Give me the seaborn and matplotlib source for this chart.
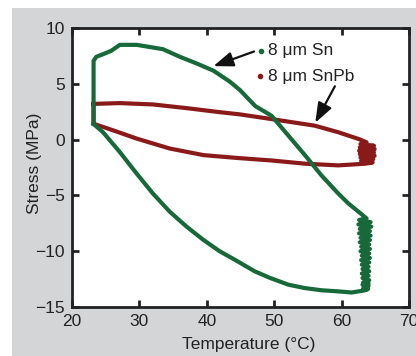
import numpy as np
import pandas as pd
import matplotlib
matplotlib.use('Agg')
import matplotlib.pyplot as plt
import seaborn as sns
from matplotlib.patches import Rectangle

# Sn loop (temperature in C, stress in MPa)
sn_temp = [23.2, 23.2, 23.6, 24.6, 25.8, 27.1, 29.6, 31.5, 33.5, 36.0, 38.5, 41.0, 43.4,
           44.9, 47.2, 49.6, 52.1, 54.6, 57.0, 59.5, 61.0, 62.5, 63.7,
           # noisy band at the hot end
           62.6, 64.3, 62.5, 64.4, 62.7, 64.2, 62.6, 64.3, 62.8, 64.2, 62.7, 64.1,
           62.9, 64.2, 62.8, 64.1, 63.0, 64.2, 62.9, 64.1, 63.0, 64.0, 63.1, 64.1,
           63.0, 64.0, 63.1, 64.1, 63.2, 64.0, 63.1, 64.0, 63.3, 63.9, 63.2, 63.9,
           63.5, 61.5, 59.5, 57.0, 54.5, 52.1, 49.4, 47.1, 44.4, 41.9, 39.5, 37.0,
           34.5, 32.0, 29.6, 27.1, 24.6, 23.2]
sn_stress = [1.4, 7.06, 7.42, 7.65, 7.95, 8.49, 8.49, 8.3, 8.1, 7.42, 6.82, 6.17, 5.2,
             4.45, 3.0, 2.14, 0.36, -1.42, -3.2, -4.83, -5.72, -6.46, -7.06,
             -7.2, -7.4, -7.6, -7.8, -8.0, -8.2, -8.4, -8.6, -8.8, -9.0, -9.2, -9.4,
             -9.6, -9.8, -10.0, -10.2, -10.4, -10.6, -10.8, -11.0, -11.2, -11.4, -11.6, -11.8,
             -12.0, -12.2, -12.4, -12.6, -12.8, -12.9, -13.0, -13.1, -13.2, -13.3, -13.35, -13.4,
             -13.5, -13.7, -13.6, -13.5, -13.3, -13.0, -12.4, -11.8, -10.85, -10.0, -8.99, -7.8,
             -6.46, -4.83, -3.05, -1.12, 0.66, 1.4]

# SnPb loop
snpb_temp = [23.2, 27.1, 32.0, 37.0, 41.9, 44.9, 49.6, 56.0, 59.5, 62.5, 63.7,
             # dense blob at the hot end
             62.8, 64.8, 62.7, 64.9, 62.6, 64.8, 62.7, 64.9, 62.8, 64.7, 62.9, 64.6,
             63.5, 59.5, 54.6, 49.6, 44.6, 39.5, 34.5, 29.6, 26.1, 23.2, 23.2]
snpb_stress = [3.2, 3.27, 3.15, 2.82, 2.46, 2.26, 1.84, 1.25, 0.66, 0.06, -0.24,
               -0.4, -0.55, -0.7, -0.85, -1.0, -1.15, -1.3, -1.45, -1.6, -1.75, -1.9, -2.05,
               -2.16, -2.31, -2.16, -1.87, -1.65, -1.39, -0.8, 0.09, 0.83, 1.42, 3.2]

sn = pd.DataFrame({'Temperature': sn_temp, 'Stress': sn_stress})
snpb = pd.DataFrame({'Temperature': snpb_temp, 'Stress': snpb_stress})

green = '#17693a'
red = '#8a1a1a'
ink = '#222222'

plt.rcParams['font.family'] = ['Liberation Sans', 'DejaVu Sans']
fig = plt.figure(figsize=(4.16, 3.56), dpi=100)
fig.patch.set_facecolor('white')
fig.patches.append(Rectangle((12 / 416, 0), 1, 1 - 8 / 356, transform=fig.transFigure,
                             facecolor='#d4d5d7', edgecolor='none', zorder=-5))
ax = fig.add_axes([72 / 416, 49 / 356, 337 / 416, 279 / 356])
ax.set_zorder(1)

sns.lineplot(data=snpb, x='Temperature', y='Stress', sort=False, color=red, lw=3.0,
             ax=ax, estimator=None)
sns.lineplot(data=sn, x='Temperature', y='Stress', sort=False, color=green, lw=3.0,
             ax=ax, estimator=None)

ax.set_xlim(20, 70)
ax.set_ylim(-15, 10)
ax.set_xticks([20, 30, 40, 50, 60, 70])
ax.set_yticks([-15, -10, -5, 0, 5, 10])
ax.set_yticklabels(['\u221215', '\u221210', '\u22125', '0', '5', '10'])
ax.tick_params(direction='in', top=True, right=True, length=5, width=2,
               labelsize=12.5, colors=ink, labelcolor=ink, pad=5)
for s in ax.spines.values():
    s.set_linewidth(2)
    s.set_color(ink)
ax.set_xlabel('Temperature (\u00b0C)', fontsize=12.5, color=ink)
ax.set_ylabel('Stress (MPa)', fontsize=12.5, color=ink)
ax.xaxis.set_label_coords(0.525, -0.108)
ax.yaxis.set_label_coords(-0.09, 0.516)

# labels with small dots and arrows
ax.plot([48.05], [7.98], 'o', color=green, ms=3)
ax.plot([47.9], [5.67], 'o', color=red, ms=3)
ax.text(49.1, 7.98, '8 \u03bcm Sn', fontsize=12.5, va='center', color=ink)
ax.text(49.1, 5.67, '8 \u03bcm SnPb', fontsize=12.5, va='center', color=ink)
arrow = dict(arrowstyle='-|>,head_length=1.2,head_width=0.45', color='#111111', lw=1.6)
ax.annotate('', xy=(40.6, 6.5), xytext=(47.4, 7.98), arrowprops=arrow)
ax.annotate('', xy=(55.9, 1.3), xytext=(59.2, 5.0), arrowprops=arrow)

fig.savefig('out.png', dpi=100, facecolor=fig.get_facecolor())
